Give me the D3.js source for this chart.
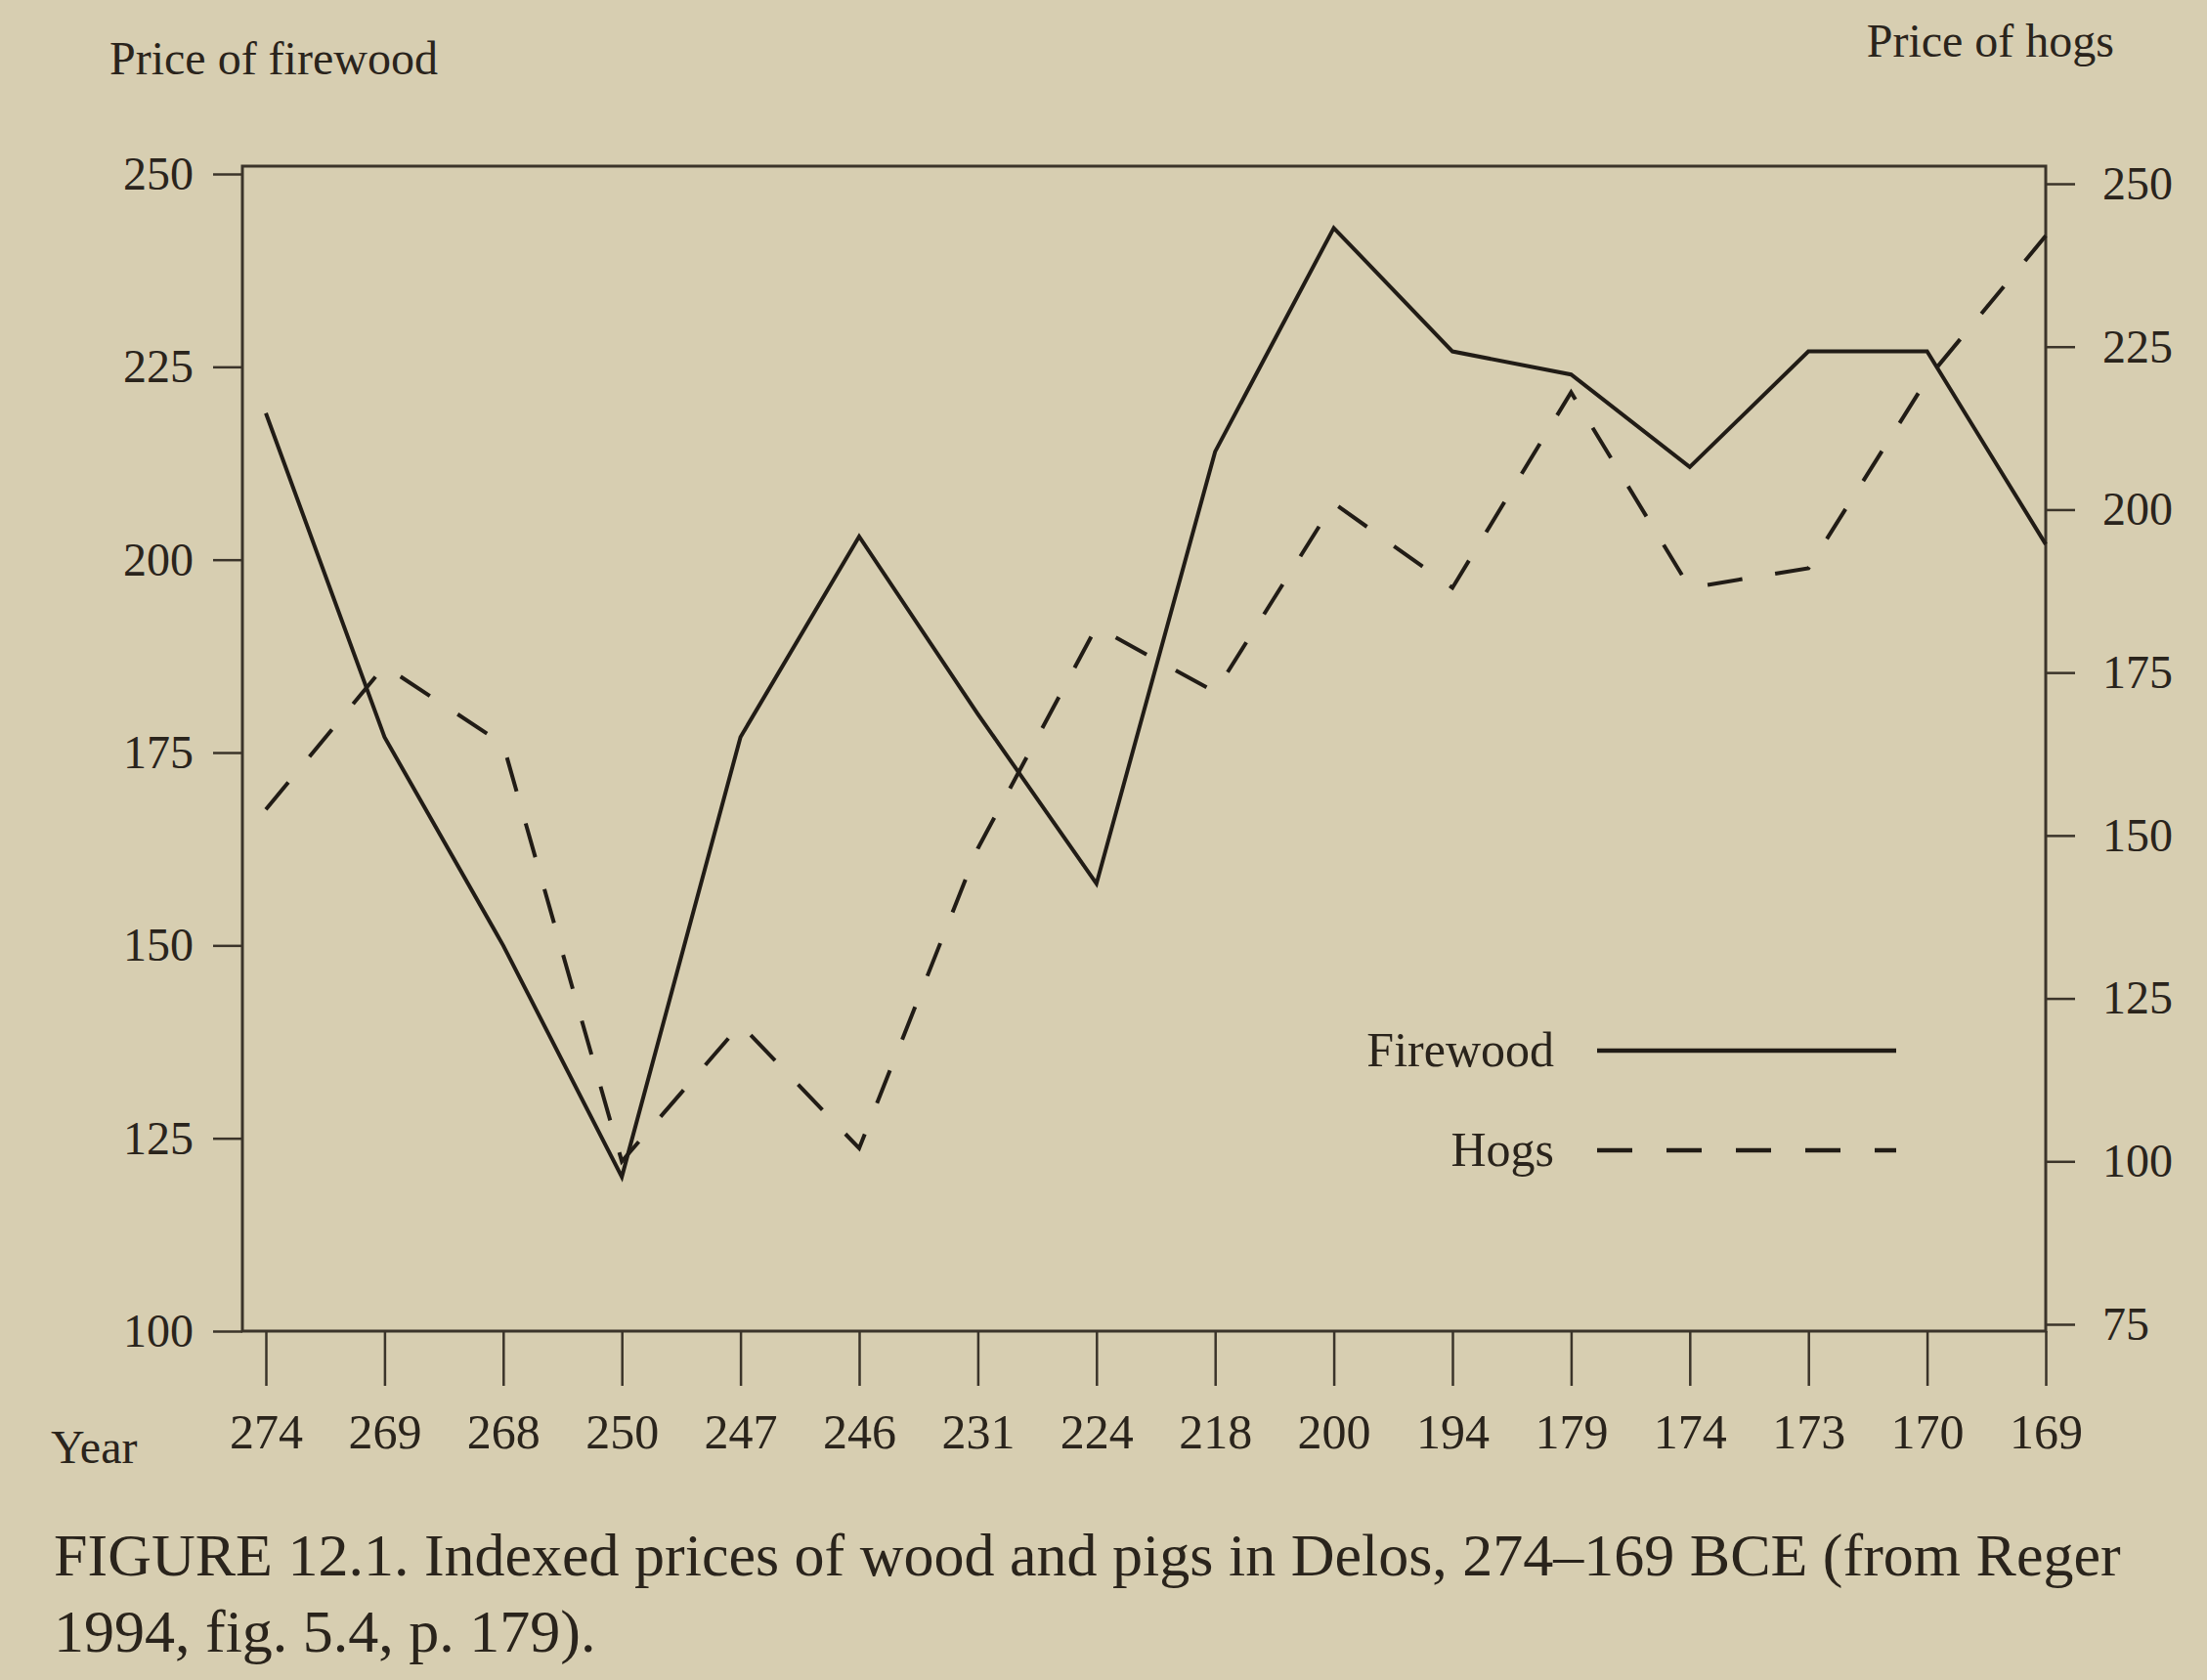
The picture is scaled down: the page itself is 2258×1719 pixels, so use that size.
<!DOCTYPE html>
<html>
<head>
<meta charset="utf-8">
<script src="https://cdn.jsdelivr.net/npm/d3@7"></script>
<style>
  html, body { margin: 0; padding: 0; background: #d7ceb1; }
  svg { display: block; }
  text { font-family: "Liberation Serif", "DejaVu Serif", serif; fill: #2a241c; }
</style>
</head>
<body>
<svg id="chart" width="2258" height="1719"></svg>
<script>
// ---- data ----
const years = ["274","269","268","250","247","246","231","224","218","200","194","179","174","173","170","169"];
const firewood = [219, 177, 150, 120, 177, 203, 180, 158, 214, 243, 227, 224, 212, 227, 227, 202];
const hogs     = [154, 176, 164, 100, 121, 102, 148, 182, 172, 201, 188, 218, 188, 191, 220, 242];
const leftTicks  = [100, 125, 150, 175, 200, 225, 250];
const rightTicks = [75, 100, 125, 150, 175, 200, 225, 250];
const seriesNames = ["Firewood", "Hogs"];

// ---- layout ----
const W = 2258, H = 1719;
const plot = { left: 248, right: 2093, top: 170, bottom: 1362 };
const ink = "#211c16";
const axisInk = "#3b342a";

const svg = d3.select("#chart");
svg.append("rect").attr("width", W).attr("height", H).attr("fill", "#d7ceb1");

const x = d3.scalePoint().domain(years).range([272, plot.right]);
const yL = d3.scaleLinear().domain([100, 250]).range([plot.bottom, 178]);
const yR = d3.scaleLinear().domain([75, 250]).range([1355, 188]);

// plot frame
svg.append("rect")
  .attr("x", plot.left).attr("y", plot.top)
  .attr("width", plot.right - plot.left).attr("height", plot.bottom - plot.top)
  .attr("fill", "none").attr("stroke", axisInk).attr("stroke-width", 3);

function styleAxis(g) {
  g.select(".domain").remove();
  g.selectAll(".tick line").attr("stroke", axisInk).attr("stroke-width", 2.5);
  g.selectAll(".tick text").attr("fill", "#2a241c")
    .style("font-family", '"Liberation Serif", serif');
}

// left axis
svg.append("g")
  .attr("transform", `translate(${plot.left},0)`)
  .call(d3.axisLeft(yL).tickValues(leftTicks).tickSize(30).tickPadding(20))
  .call(styleAxis)
  .selectAll(".tick text").style("font-size", "48px");

// right axis
svg.append("g")
  .attr("transform", `translate(${plot.right},0)`)
  .call(d3.axisRight(yR).tickValues(rightTicks).tickSize(30).tickPadding(28))
  .call(styleAxis)
  .selectAll(".tick text").style("font-size", "48px");

// bottom axis
svg.append("g")
  .attr("transform", `translate(0,${plot.bottom})`)
  .call(d3.axisBottom(x).tickSize(56).tickPadding(28))
  .call(styleAxis)
  .selectAll(".tick text").style("font-size", "50px");

// axis titles
svg.append("text").attr("x", 112).attr("y", 76).style("font-size", "48px").text("Price of firewood");
svg.append("text").attr("x", 2163).attr("y", 58).attr("text-anchor", "end").style("font-size", "48px").text("Price of hogs");
svg.append("text").attr("x", 52).attr("y", 1497).style("font-size", "48px").text("Year");

// lines
const lineL = d3.line().x((d, i) => x(years[i])).y(d => yL(d));
const lineR = d3.line().x((d, i) => x(years[i])).y(d => yR(d));

svg.append("path").datum(firewood)
  .attr("d", lineL).attr("fill", "none")
  .attr("stroke", ink).attr("stroke-width", 4).attr("stroke-linejoin", "miter");

svg.append("path").datum(hogs)
  .attr("d", lineR).attr("fill", "none")
  .attr("stroke", ink).attr("stroke-width", 4).attr("stroke-dasharray", "36,34");

// legend
const legend = svg.append("g");
const legendRows = [
  { name: seriesNames[0], y: 1075, dash: null },
  { name: seriesNames[1], y: 1177, dash: "36,35" }
];
legendRows.forEach(r => {
  legend.append("text").attr("x", 1590).attr("y", r.y + 16)
    .attr("text-anchor", "end").style("font-size", "50px").text(r.name);
  legend.append("line").attr("x1", 1634).attr("x2", 1940)
    .attr("y1", r.y).attr("y2", r.y)
    .attr("stroke", ink).attr("stroke-width", 4.5)
    .attr("stroke-dasharray", r.dash);
});

// caption
svg.append("text").attr("x", 55).attr("y", 1612).style("font-size", "62px")
  .text("FIGURE 12.1. Indexed prices of wood and pigs in Delos, 274–169 BCE (from Reger");
svg.append("text").attr("x", 55).attr("y", 1690).style("font-size", "62px")
  .text("1994, fig. 5.4, p. 179).");
</script>
</body>
</html>
